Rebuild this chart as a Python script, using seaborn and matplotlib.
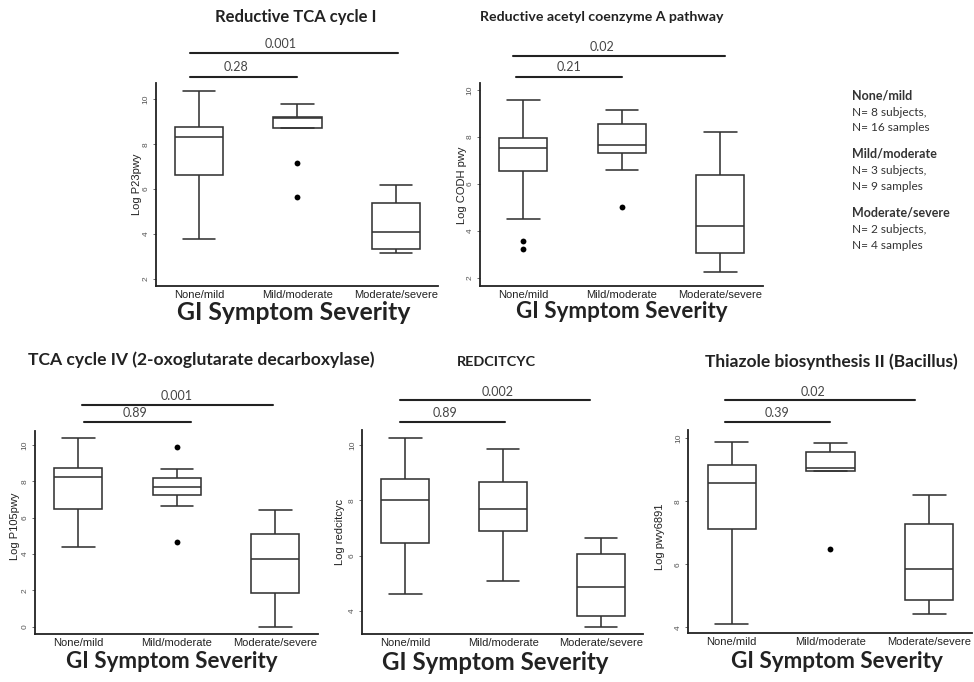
import matplotlib
matplotlib.use("Agg")
import matplotlib.pyplot as plt
import matplotlib.transforms as mtransforms
from matplotlib.ticker import MultipleLocator
import pandas as pd
import seaborn as sns

W, H = 974, 682

groups = ["None/mild", "Mild/moderate", "Moderate/severe"]

# five-number summaries: low whisker, Q1, median, Q3, high whisker
p23_box = [[3.79, 6.62, 8.33, 8.79, 10.39],
           [8.72, 8.72, 9.17, 9.21, 9.78],
           [3.16, 3.34, 4.07, 5.38, 6.20]]
p23_out = [[], [7.18, 5.63], []]
p23_p = ["0.28", "0.001"]

codh_box = [[4.50, 6.54, 7.52, 7.94, 9.57],
            [6.61, 7.30, 7.66, 8.54, 9.16],
            [2.27, 3.05, 4.21, 6.40, 8.23]]
codh_out = [[3.57, 3.24], [5.04], []]
codh_p = ["0.21", "0.02"]

p105_box = [[4.39, 6.48, 8.22, 8.75, 10.39],
            [6.64, 7.25, 7.71, 8.17, 8.66],
            [0.0, 1.85, 3.74, 5.12, 6.44]]
p105_out = [[], [9.91, 4.64], []]
p105_p = ["0.89", "0.001"]

redcit_box = [[4.61, 6.46, 8.00, 8.77, 10.25],
              [5.10, 6.89, 7.70, 8.67, 9.87],
              [3.43, 3.82, 4.88, 6.07, 6.64]]
redcit_out = [[], [], []]
redcit_p = ["0.89", "0.002"]

pwy_box = [[4.12, 7.12, 8.59, 9.15, 9.89],
           [8.97, 8.97, 9.05, 9.56, 9.84],
           [4.43, 4.87, 5.84, 7.28, 8.20]]
pwy_out = [[], [6.50], []]
pwy_p = ["0.39", "0.02"]

subjects = [8, 3, 2]
samples = [16, 9, 4]

# layout in pixels of the original (x from left, y from top)
panels = [
    dict(title="Reductive TCA cycle I", ylabel="Log P23pwy", box=p23_box, out=p23_out, pv=p23_p,
         rect=(155.7, 83.3, 438.3, 286), ylim=(1.67, 10.72), tpos=(296, 17, 12), xl=(294, 312, 17.8),
         yl=(137, 184), br=[(-0.09, 0.99, 77.3, 0.38, 66.7), (-0.09, 2.02, 53.3, 0.83, 44.3)]),
    dict(title="Reductive acetyl coenzyme A pathway", ylabel="Log CODH pwy", box=codh_box, out=codh_out, pv=codh_p,
         rect=(480, 82.7, 762.7, 286), ylim=(1.66, 10.31), tpos=(602, 17, 10.2), xl=(622, 312, 16.1),
         yl=(462, 185), br=[(-0.07, 1.0, 77.3, 0.46, 66.7), (-0.1, 2.05, 55.7, 0.80, 47.3)]),
    dict(title="TCA cycle IV (2-oxoglutarate decarboxylase)", ylabel="Log P105pwy", box=p105_box, out=p105_out, pv=p105_p,
         rect=(35, 430.7, 317.7, 634.3), ylim=(-0.42, 10.79), tpos=(201, 360, 12.6), xl=(172, 662, 16.1),
         yl=(15, 526), br=[(0.06, 1.14, 421.7, 0.58, 413.3), (0.04, 1.98, 405.3, 1.0, 396)]),
    dict(title="REDCITCYC", ylabel="Log redcitcyc", box=redcit_box, out=redcit_out, pv=redcit_p,
         rect=(362.3, 430, 643.3, 634.3), ylim=(3.16, 10.54), tpos=(496, 362, 10.4), xl=(495, 662, 17.3),
         yl=(340, 532), br=[(-0.05, 1.02, 421.7, 0.40, 413.3), (-0.05, 1.89, 400.3, 0.94, 392.3)]),
    dict(title="Thiazole biosynthesis II (Bacillus)", ylabel="Log pwy6891", box=pwy_box, out=pwy_out, pv=pwy_p,
         rect=(688.3, 430, 971.7, 633), ylim=(3.82, 10.26), tpos=(831, 362, 12.5), xl=(837, 662, 16.2),
         yl=(660, 537), br=[(-0.07, 1.0, 421.7, 0.46, 412.7), (-0.07, 1.86, 400.3, 0.82, 392.3)]),
]

sns.set_theme(style="ticks")
plt.rcParams["font.family"] = ["Liberation Sans", "DejaVu Sans"]
TXT = ["Lato", "DejaVu Sans"]
LINE = "#333333"

fig = plt.figure(figsize=(W / 100, H / 100), dpi=100)
px = mtransforms.Affine2D().scale(1 / W, -1 / H).translate(0, 1) + fig.transFigure

for p in panels:
    x0, y0, x1, y1 = p["rect"]
    ax = fig.add_axes([x0 / W, 1 - y1 / H, (x1 - x0) / W, (y1 - y0) / H])

    box_df = pd.DataFrame([(g, v) for g, vals in zip(groups, p["box"]) for v in vals],
                          columns=["group", "value"])
    sns.boxplot(data=box_df, x="group", y="value", order=groups, ax=ax, width=0.49,
                whis=(0, 100), showfliers=False, color="white", linecolor=LINE,
                linewidth=1.15, capwidths=0.33)
    out_df = pd.DataFrame([(g, v) for g, vals in zip(groups, p["out"]) for v in vals],
                          columns=["group", "value"])
    if len(out_df):
        sns.stripplot(data=out_df, x="group", y="value", order=groups, ax=ax, jitter=False,
                      color="black", size=4.2, linewidth=0)

    ax.set_xlim(-0.44, 2.43)
    ax.set_ylim(*p["ylim"])
    ax.yaxis.set_major_locator(MultipleLocator(2))
    sns.despine(ax=ax)
    for s in ["left", "bottom"]:
        ax.spines[s].set_color("#222222")
        ax.spines[s].set_linewidth(1.3)
    ax.tick_params(axis="x", length=0, pad=3, labelsize=8, labelcolor="#222222")
    ax.tick_params(axis="y", length=2.5, width=0.6, color="#555555", pad=2, labelsize=6,
                   labelcolor="#555555", labelrotation=90)
    for lab in ax.get_yticklabels():
        lab.set_va("center")

    ax.set_xlabel("GI Symptom Severity", fontsize=p["xl"][2], fontweight="bold",
                  family=TXT, color="#222222")
    ax.xaxis.set_label_coords(p["xl"][0], p["xl"][1], transform=px)
    ax.xaxis.label.set_va("center")
    ax.set_ylabel(p["ylabel"], fontsize=8, color="#222222")
    ax.yaxis.set_label_coords(p["yl"][0], p["yl"][1], transform=px)
    ax.yaxis.label.set_va("center")

    fig.text(p["tpos"][0] / W, 1 - p["tpos"][1] / H, p["title"], ha="center", va="center",
             fontsize=p["tpos"][2], fontweight="bold", family=TXT, color="#222222")

    tr = mtransforms.blended_transform_factory(ax.transData, px)
    for (xa, xb, ly, tx, ty), label in zip(p["br"], p["pv"]):
        ax.plot([xa, xb], [ly, ly], color="#222222", lw=1.5, transform=tr, clip_on=False)
        ax.text(tx, ty, label, transform=tr, ha="center", va="center", fontsize=9,
                family=TXT, color="#444444")

# sample size notes on the right
ty = 95
for g, n_sub, n_samp in zip(groups, subjects, samples):
    fig.text(851.7 / W, 1 - ty / H, g, ha="left", va="center", fontsize=9.0,
             fontweight="bold", family=TXT, color="#333333")
    fig.text(851.7 / W, 1 - (ty + 17) / H, f"N= {n_sub} subjects,", ha="left", va="center",
             fontsize=8.6, family=TXT, color="#333333")
    fig.text(851.7 / W, 1 - (ty + 32.5) / H, f"N= {n_samp} samples", ha="left", va="center",
             fontsize=8.6, family=TXT, color="#333333")
    ty += 58.8

fig.savefig("out.png", dpi=100)
